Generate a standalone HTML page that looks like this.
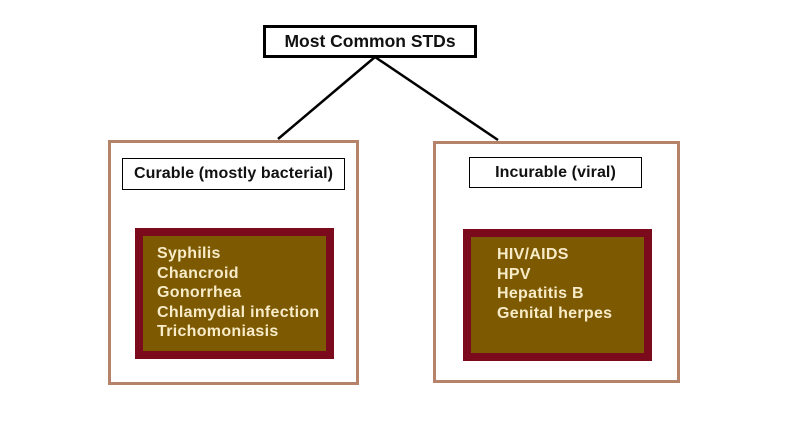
<!DOCTYPE html>
<html><head><style>
body{margin:0;width:800px;height:445px;background:#fff;position:relative;overflow:hidden;font-family:"Liberation Sans",Arial,sans-serif;font-weight:bold}
.a{position:absolute;box-sizing:border-box}
.lbl{border:1px solid #000;background:#fff;color:#111;font-size:16px;text-align:center;letter-spacing:0.1px}
.dk{background:#7d5a02;border:8px solid #7a0a1c;color:#f7ebc8;font-size:16px;line-height:19.5px;letter-spacing:0.3px}
</style></head><body>
<svg class="a" style="left:0;top:0" width="800" height="445"><line x1="375" y1="57" x2="278" y2="139" stroke="#000" stroke-width="2.5"/><line x1="375" y1="57" x2="498" y2="140" stroke="#000" stroke-width="2.5"/></svg>
<div class="a" style="left:263px;top:25px;width:214px;height:33px;border:3px solid #000;font-size:17.5px;text-align:center;line-height:27px;color:#111">Most Common STDs</div>
<div class="a" style="left:108px;top:140px;width:251px;height:245px;border:3px solid #b5836a"></div>
<div class="a lbl" style="left:122px;top:158px;width:223px;height:32px;line-height:30px">Curable (mostly bacterial)</div>
<div class="a dk" style="left:135px;top:228px;width:199px;height:131px;padding:8px 0 0 14px">Syphilis<br>Chancroid<br>Gonorrhea<br>Chlamydial infection<br>Trichomoniasis</div>
<div class="a" style="left:433px;top:141px;width:247px;height:242px;border:3px solid #b5836a"></div>
<div class="a lbl" style="left:469px;top:157px;width:173px;height:31px;line-height:29px">Incurable (viral)</div>
<div class="a dk" style="left:463px;top:229px;width:189px;height:132px;padding:8px 0 0 26px">HIV/AIDS<br>HPV<br>Hepatitis B<br>Genital herpes</div>
</body></html>
